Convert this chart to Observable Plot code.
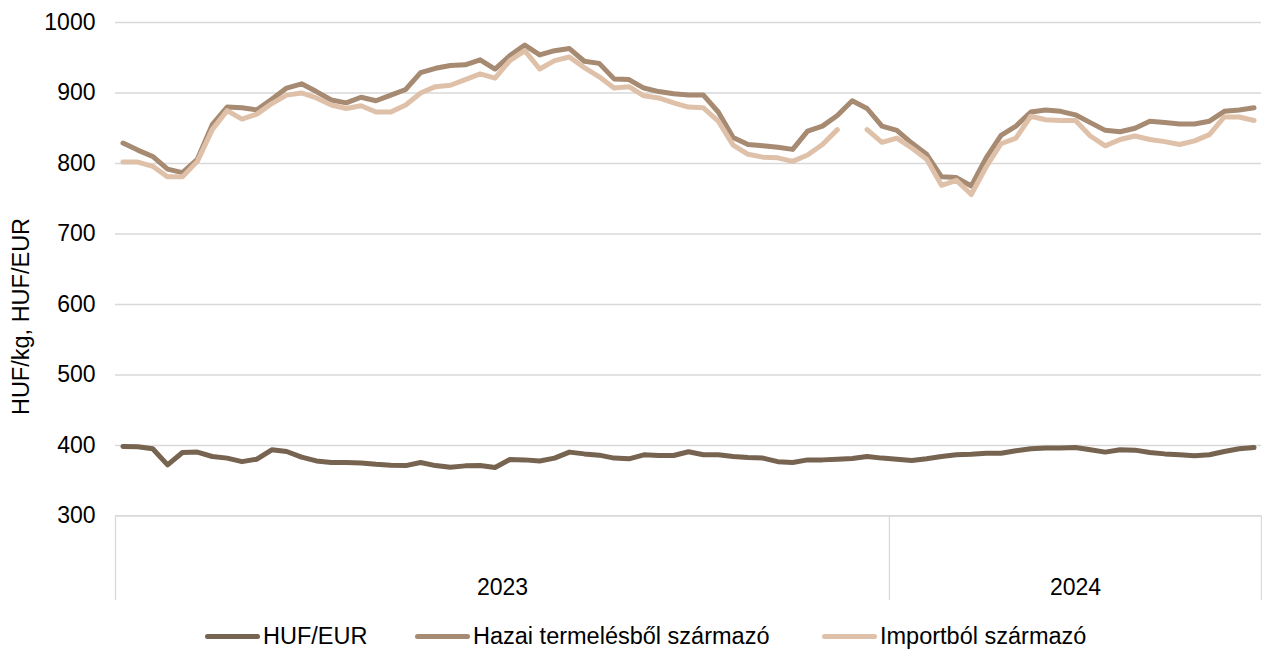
<!DOCTYPE html>
<html>
<head>
<meta charset="utf-8">
<script src="https://cdn.jsdelivr.net/npm/d3@7"></script>
<script src="https://cdn.jsdelivr.net/npm/@observablehq/plot@0.6"></script>
<style>
  html, body { margin: 0; padding: 0; background: #fff; }
  body { width: 1262px; height: 649px; position: relative; overflow: hidden; font-family: "Liberation Sans", Arial, sans-serif; }
  #legend { position: absolute; left: 0; top: 622px; width: 1262px; height: 28px; font-size: 23.5px; color: #000; white-space: nowrap; }
  .item { position: absolute; top: 0; height: 28px; display: flex; align-items: center; }
  .sw { width: 55px; height: 5px; border-radius: 3px; margin-right: 3px; }
</style>
</head>
<body>
<div id="chart"></div>
<div id="legend"></div>
<script>
// Week categories: 52 weeks of 2023, 25 weeks of 2024
const years = ["2023", "2024"];
const weeksPerYear = [52, 25];

// HUF/EUR exchange rate
const hufEur = [
  398.6, 398, 395.2, 372.4, 390, 390.5, 384.3, 382, 377, 380.5,
  393.8, 391.4, 383.3, 378, 375.7, 375.7, 375.2, 373.3, 372, 371.4,
  375.7, 371.4, 369, 371, 371.4, 368.6, 380, 379.5, 378, 382,
  390.5, 388, 386.2, 382, 381, 386.7, 385.7, 385.7, 391, 386.7,
  386.7, 384.3, 382.9, 382, 377, 375.7, 379.5, 379.5, 380.5, 381.4,
  384.3, 382, 380.5, 378.6, 381, 384.3, 386.7, 387.6, 389, 389,
  392.4, 395.2, 396.2, 396.2, 397.1, 393.8, 390.5, 393.8, 393.3, 390,
  388, 386.7, 385.2, 386.7, 391.4, 395.2, 397.1
];

// Hazai termelésből származó (HUF/kg)
const hazai = [
  829, 819, 810, 792, 787, 806, 855, 880, 879, 876,
  891, 907, 913, 902, 890, 886, 894, 889, 897, 905,
  929, 935, 939, 940, 947, 934, 953, 968, 954, 960,
  963, 945, 942, 920, 919, 907, 902, 899, 897, 897,
  873, 837, 827, 825, 823, 820, 846, 853, 868, 889,
  878, 853, 847, 829, 813, 781, 780, 768, 808, 840,
  853, 873, 876, 874, 869, 858, 847, 845, 850, 860,
  858, 856, 856, 860, 874, 876, 879
];

// Importból származó (HUF/kg); null = missing week
const importbol = [
  802, 802, 796, 781, 781, 803, 848, 875, 863, 870,
  885, 897, 900, 893, 883, 878, 882, 873, 873, 883,
  900, 909, 911, 919, 927, 921, 946, 960, 934, 946,
  951, 936, 923, 907, 909, 896, 893, 886, 880, 879,
  860, 826, 813, 809, 808, 803, 812, 827, 848, null,
  848, 830, 836, 822, 806, 769, 776, 756, 795, 828,
  836, 867, 862, 861, 861, 839, 825, 834, 839, 834,
  831, 827, 832, 841, 866, 866, 861
];

const seriesNames = ["HUF/EUR", "Hazai termelésből származó", "Importból származó"];
const seriesColors = ["#766350", "#A68A71", "#DFC1A9"];
const yTicks = [300, 400, 500, 600, 700, 800, 900, 1000];
const yTitle = "HUF/kg, HUF/EUR";

// Build category table
const categories = [];
years.forEach((yr, k) => {
  for (let w = 1; w <= weeksPerYear[k]; w++) categories.push({year: yr, week: w});
});
const seriesValues = [hufEur, hazai, importbol];
const rows = [];
seriesValues.forEach((vals, s) => {
  vals.forEach((v, i) => rows.push({i, series: seriesNames[s], value: v == null ? NaN : v}));
});

// Year group boundaries and centers (in category index units)
const boundaries = [-0.5];
const yearCenters = [];
let start = 0;
weeksPerYear.forEach((n, k) => {
  yearCenters.push({year: years[k], x: start + (n - 1) / 2});
  start += n;
  boundaries.push(start - 0.5);
});

const font = '"Liberation Sans", Arial, sans-serif';
const chart = Plot.plot({
  width: 1262,
  height: 610,
  marginLeft: 115,
  marginRight: 1,
  marginTop: 22,
  marginBottom: 10,
  style: {fontFamily: font, fontSize: "23px", color: "#000", background: "#fff"},
  x: {domain: [-0.5, categories.length - 0.5], axis: null},
  y: {domain: [180, 1000], axis: null},
  color: {domain: seriesNames, range: seriesColors},
  marks: [
    Plot.ruleY(yTicks, {stroke: "#d9d9d9", strokeWidth: 1.6}),
    Plot.ruleX(boundaries, {y1: 180, y2: 300, stroke: "#d9d9d9", strokeWidth: 1.3}),
    Plot.axisY({ticks: yTicks, tickSize: 0, tickPadding: 20, label: null, fontSize: 23, tickFormat: d => String(d)}),
    Plot.text(yearCenters, {x: "x", y: 198.5, text: "year", fontSize: 23, fill: "#000"}),
    Plot.text([yTitle], {frameAnchor: "left", textAnchor: "middle", dx: -94, dy: 5, rotate: -90, fontSize: 23.5, fill: "#000"}),
    Plot.line(rows, {x: "i", y: "value", z: "series", stroke: "series", strokeWidth: 5, strokeLinecap: "round", strokeLinejoin: "round"})
  ]
});
document.getElementById("chart").appendChild(chart);

const legendLeft = [205, 415, 822];
const legend = document.getElementById("legend");
seriesNames.forEach((name, k) => {
  const it = document.createElement("div");
  it.className = "item";
  it.style.left = legendLeft[k] + "px";
  const sw = document.createElement("div");
  sw.className = "sw";
  sw.style.background = seriesColors[k];
  const tx = document.createElement("span");
  tx.textContent = name;
  it.appendChild(sw);
  it.appendChild(tx);
  legend.appendChild(it);
});
</script>
</body>
</html>
